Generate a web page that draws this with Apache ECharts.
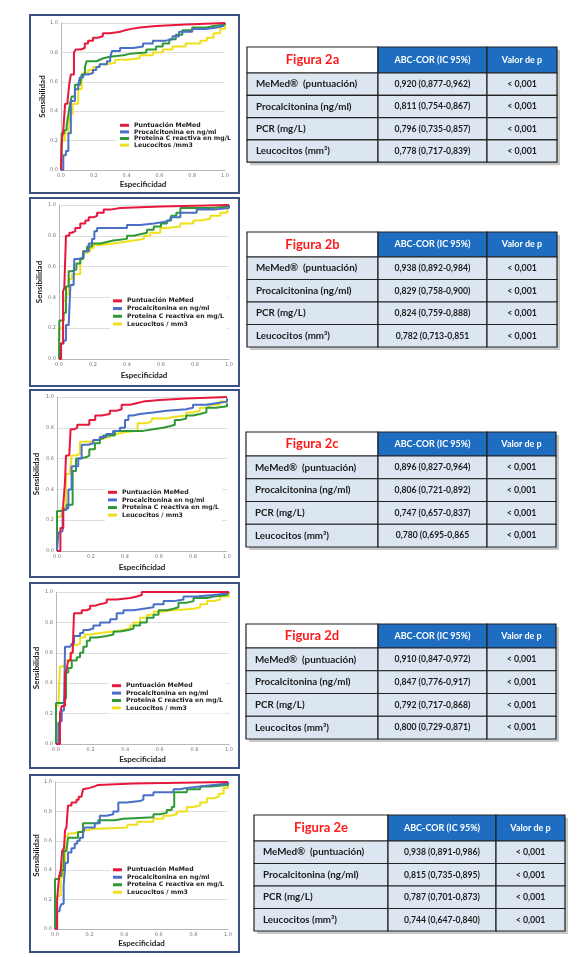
<!DOCTYPE html>
<html><head><meta charset="utf-8">
<script src="https://cdn.jsdelivr.net/npm/echarts@6/dist/echarts.min.js"></script>
<style>html,body{margin:0;padding:0;background:#fff}#c{width:584px;height:957px}</style>
</head><body><div id="c"></div>
<script>
// ---------- ROC curve data ([1-specificity, sensitivity]) ----------
const memedA=[[0,0],[0.005,0.2],[0.014,0.27],[0.025,0.45],[0.04,0.47],[0.05,0.58],[0.06,0.65],[0.079,0.8],[0.09,0.82],[0.12,0.83],[0.145,0.86],[0.165,0.88],[0.195,0.9],[0.225,0.91],[0.255,0.93],[0.3,0.94],[0.36,0.95],[0.39,0.96],[0.43,0.97],[0.48,0.98],[0.58,0.99],[0.76,1],[1,1]];
const pctA=[[0,0],[0.014,0.1],[0.03,0.13],[0.045,0.25],[0.06,0.47],[0.085,0.55],[0.105,0.58],[0.115,0.63],[0.135,0.65],[0.165,0.66],[0.195,0.68],[0.215,0.7],[0.235,0.72],[0.28,0.74],[0.3,0.76],[0.31,0.81],[0.36,0.83],[0.44,0.84],[0.5,0.86],[0.56,0.88],[0.64,0.89],[0.68,0.91],[0.72,0.94],[0.8,0.96],[0.89,0.97],[0.95,0.98],[0.99,1],[1,1]];
const pcrA=[[0,0],[0.004,0.25],[0.02,0.27],[0.034,0.3],[0.045,0.38],[0.055,0.45],[0.065,0.5],[0.085,0.58],[0.116,0.59],[0.126,0.65],[0.146,0.7],[0.156,0.74],[0.217,0.75],[0.237,0.76],[0.258,0.77],[0.298,0.78],[0.379,0.79],[0.42,0.8],[0.52,0.82],[0.58,0.84],[0.62,0.86],[0.66,0.89],[0.7,0.92],[0.74,0.95],[0.8,0.97],[0.89,0.98],[0.93,0.99],[1,1]];
const leuA=[[0,0],[0.006,0.2],[0.024,0.25],[0.045,0.3],[0.055,0.38],[0.071,0.45],[0.105,0.55],[0.126,0.62],[0.136,0.66],[0.166,0.68],[0.197,0.7],[0.237,0.72],[0.278,0.73],[0.33,0.75],[0.4,0.76],[0.48,0.78],[0.56,0.8],[0.62,0.82],[0.68,0.84],[0.76,0.86],[0.85,0.88],[0.89,0.9],[0.93,0.93],[0.97,0.96],[1,1]];

const memedB=[[0,0],[0.012,0.1],[0.024,0.44],[0.031,0.46],[0.041,0.8],[0.061,0.82],[0.076,0.83],[0.096,0.85],[0.125,0.88],[0.155,0.9],[0.175,0.92],[0.204,0.93],[0.224,0.95],[0.263,0.97],[0.302,0.98],[0.36,0.99],[0.6,1],[1,1]];
const pctB=[[0,0],[0.012,0.1],[0.027,0.12],[0.041,0.22],[0.057,0.23],[0.067,0.48],[0.086,0.5],[0.09,0.65],[0.116,0.66],[0.145,0.7],[0.175,0.75],[0.194,0.78],[0.208,0.83],[0.224,0.85],[0.4,0.87],[0.478,0.88],[0.557,0.89],[0.616,0.9],[0.655,0.92],[0.714,0.95],[0.81,0.97],[0.91,0.98],[1,1]];
const pcrB=[[0,0],[0.002,0.25],[0.027,0.3],[0.041,0.47],[0.057,0.57],[0.076,0.58],[0.102,0.62],[0.125,0.65],[0.141,0.7],[0.165,0.73],[0.194,0.75],[0.243,0.76],[0.282,0.77],[0.32,0.78],[0.4,0.8],[0.44,0.81],[0.478,0.82],[0.518,0.84],[0.557,0.86],[0.6,0.88],[0.635,0.9],[0.66,0.93],[0.69,0.95],[0.714,0.98],[0.9,0.99],[1,1]];
const leuB=[[0,0],[0.001,0.2],[0.024,0.38],[0.043,0.42],[0.057,0.52],[0.076,0.55],[0.125,0.65],[0.145,0.69],[0.165,0.7],[0.184,0.72],[0.204,0.74],[0.243,0.75],[0.32,0.76],[0.38,0.77],[0.44,0.78],[0.5,0.8],[0.537,0.82],[0.596,0.85],[0.635,0.86],[0.714,0.88],[0.79,0.9],[0.83,0.91],[0.89,0.93],[0.95,0.95],[0.99,0.97],[1,1]];

const memedC=[[0,0],[0.02,0.15],[0.037,0.3],[0.047,0.45],[0.053,0.62],[0.072,0.63],[0.08,0.79],[0.1,0.8],[0.119,0.82],[0.19,0.85],[0.225,0.88],[0.262,0.89],[0.311,0.91],[0.35,0.92],[0.38,0.95],[0.43,0.96],[0.468,0.97],[0.507,0.98],[0.605,0.99],[0.76,1],[1,1]];
const pctC=[[0,0],[0.008,0.12],[0.02,0.13],[0.033,0.27],[0.053,0.28],[0.067,0.4],[0.086,0.55],[0.125,0.6],[0.145,0.69],[0.184,0.7],[0.213,0.72],[0.252,0.74],[0.29,0.76],[0.33,0.78],[0.37,0.8],[0.4,0.85],[0.42,0.88],[0.448,0.89],[0.487,0.9],[0.566,0.91],[0.644,0.92],[0.76,0.93],[0.8,0.95],[0.879,0.96],[0.937,0.97],[1,0.99]];
const pcrC=[[0,0],[0,0.26],[0.027,0.27],[0.057,0.3],[0.092,0.52],[0.112,0.6],[0.135,0.61],[0.174,0.62],[0.19,0.66],[0.223,0.7],[0.252,0.73],[0.272,0.75],[0.34,0.78],[0.507,0.79],[0.566,0.8],[0.624,0.81],[0.663,0.82],[0.693,0.85],[0.722,0.86],[0.76,0.88],[0.8,0.89],[0.84,0.9],[0.879,0.93],[0.937,0.94],[1,0.96]];
const leuC=[[0,0],[0,0.22],[0.014,0.23],[0.027,0.28],[0.053,0.5],[0.076,0.52],[0.086,0.62],[0.112,0.63],[0.135,0.71],[0.194,0.72],[0.233,0.73],[0.272,0.74],[0.311,0.76],[0.35,0.77],[0.389,0.78],[0.474,0.83],[0.526,0.84],[0.556,0.86],[0.644,0.87],[0.683,0.88],[0.76,0.9],[0.8,0.91],[0.84,0.93],[0.898,0.95],[0.957,0.97],[1,0.99]];

const memedD=[[0,0],[0.023,0.2],[0.033,0.25],[0.052,0.45],[0.062,0.5],[0.071,0.55],[0.085,0.6],[0.097,0.63],[0.104,0.86],[0.149,0.88],[0.178,0.89],[0.197,0.91],[0.226,0.92],[0.255,0.93],[0.293,0.95],[0.351,0.96],[0.43,0.97],[0.467,0.98],[0.496,1],[1,1]];
const pctD=[[0,0],[0.0135,0.14],[0.023,0.15],[0.033,0.22],[0.046,0.23],[0.052,0.64],[0.081,0.65],[0.091,0.66],[0.104,0.71],[0.139,0.73],[0.158,0.75],[0.187,0.76],[0.216,0.78],[0.255,0.8],[0.313,0.82],[0.351,0.86],[0.39,0.88],[0.448,0.89],[0.506,0.9],[0.564,0.92],[0.622,0.94],[0.68,0.95],[0.737,0.97],[0.815,0.98],[0.911,0.99],[0.99,1],[1,1]];
const pcrD=[[0,0],[0,0.27],[0.046,0.3],[0.058,0.47],[0.071,0.5],[0.091,0.55],[0.12,0.57],[0.139,0.6],[0.158,0.64],[0.178,0.68],[0.197,0.7],[0.236,0.71],[0.293,0.72],[0.332,0.74],[0.371,0.75],[0.419,0.76],[0.448,0.78],[0.486,0.8],[0.525,0.83],[0.564,0.85],[0.593,0.88],[0.641,0.89],[0.68,0.9],[0.708,0.93],[0.757,0.94],[0.795,0.96],[0.873,0.97],[0.911,0.98],[0.99,1],[1,1]];
const leuD=[[0,0],[0,0.25],[0.0135,0.26],[0.023,0.51],[0.039,0.52],[0.052,0.55],[0.071,0.56],[0.085,0.6],[0.097,0.65],[0.12,0.66],[0.139,0.7],[0.168,0.72],[0.197,0.73],[0.255,0.74],[0.332,0.75],[0.39,0.76],[0.429,0.78],[0.448,0.8],[0.486,0.83],[0.525,0.85],[0.564,0.87],[0.602,0.88],[0.68,0.89],[0.795,0.9],[0.834,0.92],[0.873,0.94],[0.911,0.95],[0.95,0.97],[1,1]];

const memedE=[[0,0],[0.012,0.2],[0.023,0.35],[0.033,0.4],[0.041,0.53],[0.052,0.55],[0.058,0.67],[0.066,0.69],[0.075,0.84],[0.095,0.86],[0.124,0.88],[0.137,0.9],[0.153,0.91],[0.162,0.95],[0.172,0.96],[0.201,0.97],[0.23,0.98],[0.25,0.99],[0.453,1],[1,1]];
const pctE=[[0,0],[0.012,0.12],[0.027,0.14],[0.037,0.17],[0.05,0.3],[0.06,0.45],[0.075,0.52],[0.095,0.55],[0.114,0.58],[0.128,0.6],[0.143,0.62],[0.162,0.65],[0.172,0.69],[0.23,0.72],[0.259,0.77],[0.298,0.78],[0.337,0.8],[0.366,0.86],[0.414,0.87],[0.491,0.88],[0.511,0.91],[0.569,0.93],[0.685,0.95],[0.723,0.96],[0.762,0.97],[0.839,0.98],[0.917,0.99],[1,1]];
const pcrE=[[0,0],[0,0.34],[0.023,0.36],[0.037,0.4],[0.05,0.53],[0.066,0.54],[0.075,0.62],[0.133,0.66],[0.162,0.72],[0.25,0.74],[0.346,0.75],[0.395,0.76],[0.569,0.78],[0.607,0.79],[0.646,0.81],[0.675,0.83],[0.689,0.93],[0.762,0.95],[0.839,0.97],[0.897,0.98],[1,1]];
const leuE=[[0,0],[0,0.22],[0.017,0.23],[0.033,0.35],[0.046,0.45],[0.058,0.63],[0.075,0.65],[0.104,0.66],[0.143,0.67],[0.172,0.68],[0.22,0.69],[0.418,0.71],[0.476,0.73],[0.569,0.75],[0.627,0.77],[0.665,0.78],[0.704,0.8],[0.762,0.83],[0.801,0.84],[0.839,0.86],[0.878,0.89],[0.917,0.9],[0.946,0.92],[0.975,0.96],[1,0.97],[1,1]];

// ---------- labels ----------
const seriesNames=['Puntuación MeMed','Procalcitonina en ng/ml','Proteina C reactiva en mg/L','Leucocitos / mm3'];
const seriesNamesA=['Puntuación MeMed','Procalcitonina en ng/ml','Proteina C reactiva en mg/L','Leucocitos /mm3'];
const axisTicks=[0,0.2,0.4,0.6,0.8,1.0];
const xAxisName='Especificidad';
const yAxisName='Sensibilidad';

// ---------- tables ----------
const figureTitles=['Figura 2a','Figura 2b','Figura 2c','Figura 2d','Figura 2e'];
const headerCols=['ABC-COR (IC 95%)','Valor de p'];
const rowLabels=['MeMed®  (puntuación)','Procalcitonina (ng/ml)','PCR (mg/L)','Leucocitos (mm³)'];
const aucA=['0,920 (0,877-0,962)','0,811 (0,754-0,867)','0,796 (0,735-0,857)','0,778 (0,717-0,839)'];
const aucB=['0,938 (0,892-0,984)','0,829 (0,758-0,900)','0,824 (0,759-0,888)','0,782 (0,713-0,851'];
const aucC=['0,896 (0,827-0,964)','0,806 (0,721-0,892)','0,747 (0,657-0,837)','0,780 (0,695-0,865'];
const aucD=['0,910 (0,847-0,972)','0,847 (0,776-0,917)','0,792 (0,717-0,868)','0,800 (0,729-0,871)'];
const aucE=['0,938 (0,891-0,986)','0,815 (0,735-0,895)','0,787 (0,701-0,873)','0,744 (0,647-0,840)'];
const pValues=['< 0,001','< 0,001','< 0,001','< 0,001'];

// ---------- layout / style ----------
const colors=['#e8173d','#4a6fc7','#2f9a35','#efe01c'];
const panels=[
 {grid:{left:61,top:23,width:164,height:147},frame:[30,15,209,178],xGap:10,yGap:14,leg:{left:117,top:120,lh:6.6},data:[memedA,pctA,pcrA,leuA],names:seriesNamesA},
 {grid:{left:59,top:205,width:170,height:154},frame:[30,198,209,188],xGap:12,yGap:16,leg:{left:110,top:295,lh:7.7},data:[memedB,pctB,pcrB,leuB],names:seriesNames},
 {grid:{left:57,top:397,width:170,height:154},frame:[30,390,209,187],xGap:12,yGap:17,leg:{left:105,top:486.5,lh:7.6},data:[memedC,pctC,pcrC,leuC],names:seriesNames},
 {grid:{left:56,top:592,width:173,height:152},frame:[30,583,209,185],xGap:11,yGap:16,leg:{left:109,top:680,lh:7.4},data:[memedD,pctD,pcrD,leuD],names:seriesNames},
 {grid:{left:55,top:782,width:173,height:147},frame:[30,775,209,177],xGap:10,yGap:14,leg:{left:110,top:864,lh:7.5},data:[memedE,pctE,pcrE,leuE],names:seriesNames}
];
const tables=[
 {left:247,top:47,cols:[131,109,70],hh:26,rh:22.3,auc:aucA},
 {left:247,top:232,cols:[131,109,70],hh:25,rh:22.5,auc:aucB},
 {left:246,top:432,cols:[132,109,69],hh:24,rh:22.75,auc:aucC},
 {left:246,top:624,cols:[132,109,69],hh:24,rh:22.75,auc:aucD},
 {left:254,top:815,cols:[134,108,69],hh:26,rh:22.5,auc:aucE}
];

const grids=[],xAxes=[],yAxes=[],series=[],legends=[],graphics=[];
panels.forEach((p,i)=>{
  grids.push(p.grid);
  const common={min:0,max:1,interval:0.2,gridIndex:i,nameLocation:'middle',
    nameTextStyle:{fontFamily:'Lato',fontWeight:'bold',fontSize:8,color:'#222'},
    axisLine:{show:true,lineStyle:{color:'#b8b8b8',width:1}},axisTick:{show:false},
    axisLabel:{fontSize:5,color:'#777',fontFamily:'DejaVu Sans',margin:3,formatter:v=>v.toFixed(1)}};
  xAxes.push(Object.assign({},common,{type:'value',name:xAxisName,nameGap:p.xGap,splitLine:{show:false}}));
  yAxes.push(Object.assign({},common,{type:'value',name:yAxisName,nameGap:p.yGap,splitLine:{show:true,lineStyle:{color:'#dedede',width:1}}}));
  [3,2,1,0].forEach(k=>{
    series.push({type:'line',name:p.names[k],xAxisIndex:i,yAxisIndex:i,data:p.data[k],step:'end',
      showSymbol:false,symbol:'none',silent:true,animation:false,
      lineStyle:{color:colors[k],width:2},itemStyle:{color:colors[k]},z:3+(3-k)});
  });
  legends.push({data:p.names.slice(),left:p.leg.left,top:p.leg.top,orient:'vertical',itemGap:0,
    itemWidth:9,itemHeight:3,icon:'rect',backgroundColor:'#fff',padding:[2,3],selectedMode:false,
    textStyle:{fontFamily:'DejaVu Sans',fontWeight:'bold',fontSize:6.2,color:'#222',lineHeight:p.leg.lh}});
  const f=p.frame;
  graphics.push({type:'rect',shape:{x:f[0],y:f[1],width:f[2],height:f[3]},style:{fill:'transparent',stroke:'#3c5082',lineWidth:2},z:10});
});

const ctr={align:'center',verticalAlign:'middle',textAlign:'center',textVerticalAlign:'middle'};
tables.forEach((t,i)=>{
  const W=t.cols[0]+t.cols[1]+t.cols[2], H=t.hh+4*t.rh;
  graphics.push({type:'rect',shape:{x:t.left+3,y:t.top+3,width:W,height:H},style:{fill:'#c8c8c8'},z:1});
  const x0=t.left,x1=x0+t.cols[0],x2=x1+t.cols[1];
  const xs=[x0,x1,x2];
  graphics.push({type:'rect',shape:{x:x0,y:t.top,width:t.cols[0],height:t.hh},style:{fill:'#ffffff',stroke:'#222',lineWidth:1.2},z:2});
  graphics.push({type:'rect',shape:{x:x1,y:t.top,width:t.cols[1],height:t.hh},style:{fill:'#1f6dc0',stroke:'#222',lineWidth:1.2},z:2});
  graphics.push({type:'rect',shape:{x:x2,y:t.top,width:t.cols[2],height:t.hh},style:{fill:'#1f6dc0',stroke:'#222',lineWidth:1.2},z:2});
  graphics.push({type:'text',x:x0+t.cols[0]/2,y:t.top+t.hh/2,style:Object.assign({text:figureTitles[i],fill:'#ff1a1a',font:'bold 13px Lato'},ctr),z:3});
  headerCols.forEach((h,j)=>{
    graphics.push({type:'text',x:xs[j+1]+t.cols[j+1]/2,y:t.top+t.hh/2,style:Object.assign({text:h,fill:'#ffffff',font:'bold 9px Lato'},ctr),z:3});
  });
  rowLabels.forEach((lab,r)=>{
    const y=t.top+t.hh+r*t.rh;
    [0,1,2].forEach(j=>graphics.push({type:'rect',shape:{x:xs[j],y:y,width:t.cols[j],height:t.rh},style:{fill:'#dce6f1',stroke:'#222',lineWidth:1.2},z:2}));
    graphics.push({type:'text',x:x0+9,y:y+t.rh/2,style:{text:lab,fill:'#1a1a1a',font:'bold 9.8px Lato',align:'left',verticalAlign:'middle',textAlign:'left',textVerticalAlign:'middle'},z:3});
    graphics.push({type:'text',x:x1+t.cols[1]/2,y:y+t.rh/2,style:Object.assign({text:t.auc[r],fill:'#1a1a1a',font:'bold 8.6px Lato'},ctr),z:3});
    graphics.push({type:'text',x:x2+t.cols[2]/2,y:y+t.rh/2,style:Object.assign({text:pValues[r],fill:'#1a1a1a',font:'bold 8.8px Lato'},ctr),z:3});
  });
});

const chart=echarts.init(document.getElementById('c'),null,{renderer:'canvas'});
chart.setOption({animation:false,backgroundColor:'#fff',grid:grids,xAxis:xAxes,yAxis:yAxes,series:series,legend:legends,graphic:{elements:graphics}});
</script></body></html>
